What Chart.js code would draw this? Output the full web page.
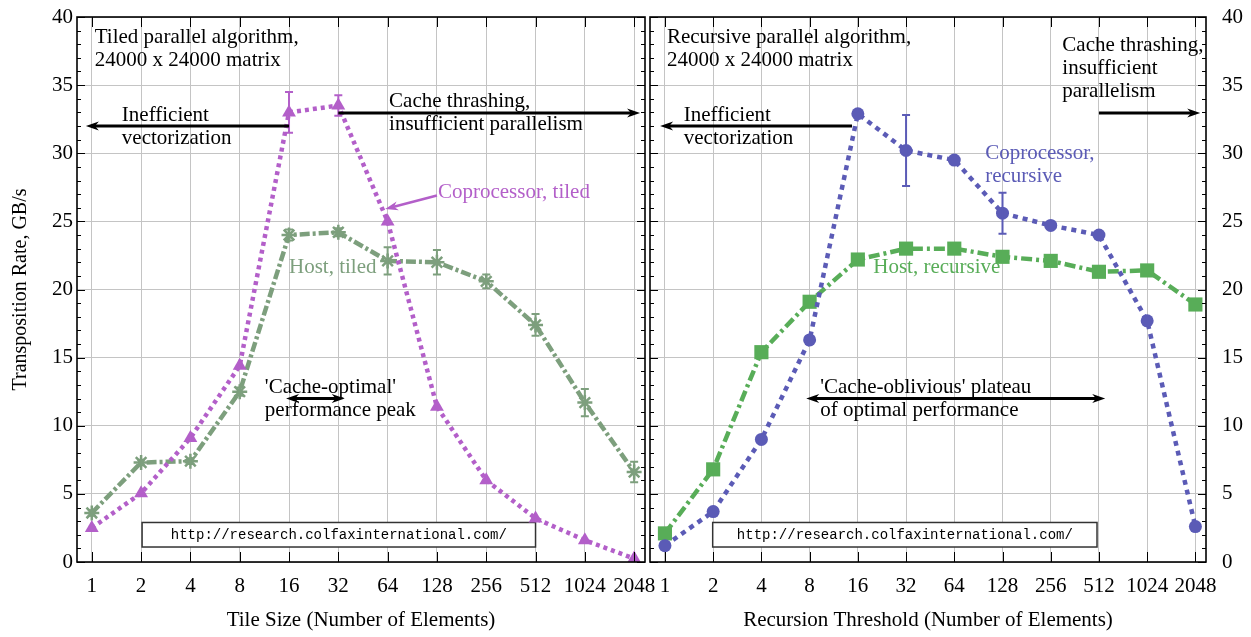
<!DOCTYPE html>
<html>
<head>
<meta charset="utf-8">
<script src="https://cdn.jsdelivr.net/npm/chart.js@4.4.1/dist/chart.umd.min.js"></script>
<style>
	body { margin: 0; background: #fff; }
	#wrap { position: relative; width: 1251px; height: 637px; overflow: hidden; }
	#wrap canvas { position: absolute; top: 0; }
</style>
</head>
<body>
<div id="wrap">
	<canvas id="left-chart" width="680" height="637" style="left:0"></canvas>
	<canvas id="right-chart" width="621" height="637" style="left:630px"></canvas>
</div>
<script>
// x categories (powers of two) and the four measured series, GB/s
const sizes = ['1', '2', '4', '8', '16', '32', '64', '128', '256', '512', '1024', '2048'];

const coprocTiled    = [2.5, 5.05, 9.1, 14.4, 33.0, 33.5, 25.0, 11.4, 6.0, 3.2, 1.6, 0.25];
const coprocTiledErr = [0, 0, 0, 0, 1.5, 0.75, 0, 0, 0, 0, 0, 0];
const hostTiled      = [3.6, 7.3, 7.4, 12.5, 24.0, 24.2, 22.1, 22.0, 20.6, 17.4, 11.7, 6.6];
const hostTiledErr   = [0.2, 0.2, 0.2, 0.3, 0.4, 0.3, 1.0, 0.9, 0.5, 0.8, 1.0, 0.75];

const coprocRec    = [1.2, 3.7, 9.0, 16.3, 32.9, 30.2, 29.5, 25.6, 24.7, 24.0, 17.7, 2.6];
const coprocRecErr = [0, 0, 0, 0, 0, 2.6, 0, 1.5, 0, 0, 0, 0];
const hostRec      = [2.1, 6.8, 15.4, 19.1, 22.2, 23.0, 23.0, 22.4, 22.1, 21.3, 21.4, 18.9];

const yTicks = [0, 5, 10, 15, 20, 25, 30, 35, 40];

const PURPLE = '#b35fc9';
const GREYGREEN = '#7d9f7d';
const BLUE = '#5b5bb6';
const GREEN = '#58ad58';
const SERIF = '"Liberation Serif", "Times New Roman", serif';
const URL_TEXT = 'http://research.colfaxinternational.com/';

const pts = (arr) => arr.map((v, i) => ({ x: i, y: v }));

function arrow(ctx, x1, y1, x2, y2, both, color, width) {
	ctx.strokeStyle = color;
	ctx.fillStyle = color;
	ctx.lineWidth = width;
	const ang = Math.atan2(y2 - y1, x2 - x1);
	const L = 13, W = 4.5;
	const head = (x, y, a) => {
		ctx.beginPath();
		ctx.moveTo(x, y);
		ctx.lineTo(x - L * Math.cos(a) + W * Math.sin(a), y - L * Math.sin(a) - W * Math.cos(a));
		ctx.lineTo(x - L * Math.cos(a) * 0.7, y - L * Math.sin(a) * 0.7);
		ctx.lineTo(x - L * Math.cos(a) - W * Math.sin(a), y - L * Math.sin(a) + W * Math.cos(a));
		ctx.closePath();
		ctx.fill();
	};
	ctx.beginPath();
	ctx.moveTo(both ? x1 + 8 * Math.cos(ang) : x1, both ? y1 + 8 * Math.sin(ang) : y1);
	ctx.lineTo(x2 - 8 * Math.cos(ang), y2 - 8 * Math.sin(ang));
	ctx.stroke();
	head(x2, y2, ang);
	if (both) head(x1, y1, ang + Math.PI);
}

// frame, mirrored ticks, url box, error bars and the text notes
const panelPlugin = {
	id: 'panel',
	beforeDatasetsDraw(chart, args, opts) {
		const { ctx, scales: { x, y } } = chart;
		ctx.save();
		const bx1 = x.getPixelForValue(opts.box[0]), bx2 = x.getPixelForValue(opts.box[1]);
		const by1 = y.getPixelForValue(opts.box[2]), by2 = y.getPixelForValue(opts.box[3]);
		ctx.fillStyle = '#fff';
		ctx.fillRect(bx1, by1, bx2 - bx1, by2 - by1);
		ctx.strokeStyle = '#333';
		ctx.lineWidth = 1.5;
		ctx.strokeRect(bx1, by1, bx2 - bx1, by2 - by1);
		ctx.fillStyle = '#000';
		ctx.font = '14px "Liberation Mono", "DejaVu Sans Mono", monospace';
		ctx.textAlign = 'center';
		ctx.textBaseline = 'middle';
		ctx.fillText(URL_TEXT, (bx1 + bx2) / 2, (by1 + by2) / 2 + 1);
		ctx.restore();
	},
	afterDraw(chart, args, opts) {
		const { ctx, chartArea: a, scales: { x, y } } = chart;
		ctx.save();

		// error bars
		opts.errors.forEach((e) => {
			ctx.strokeStyle = e.color;
			ctx.lineWidth = 2;
			e.vals.forEach((v, i) => {
				const d = e.err[i];
				if (!d) return;
				const px = x.getPixelForValue(i);
				const t = y.getPixelForValue(v + d), b = y.getPixelForValue(v - d);
				ctx.beginPath();
				ctx.moveTo(px, t); ctx.lineTo(px, b);
				ctx.moveTo(px - 4, t); ctx.lineTo(px + 4, t);
				ctx.moveTo(px - 4, b); ctx.lineTo(px + 4, b);
				ctx.stroke();
			});
		});

		// minor / major ticks on all sides
		ctx.strokeStyle = '#000';
		ctx.lineWidth = 1;
		ctx.beginPath();
		for (let v = 0; v <= 40; v++) {
			const py = Math.round(y.getPixelForValue(v)) + 0.5;
			const len = v % 5 ? 4 : 8;
			ctx.moveTo(a.left, py); ctx.lineTo(a.left + len, py);
			ctx.moveTo(a.right, py); ctx.lineTo(a.right - len, py);
		}
		sizes.forEach((s, i) => {
			const px = Math.round(x.getPixelForValue(i)) + 0.5;
			ctx.moveTo(px, a.bottom); ctx.lineTo(px, a.bottom - 10);
			ctx.moveTo(px, a.top); ctx.lineTo(px, a.top + 10);
		});
		ctx.stroke();

		ctx.lineWidth = 1.6;
		ctx.strokeRect(a.left, a.top, a.right - a.left, a.bottom - a.top);

		// notes
		ctx.font = '21px ' + SERIF;
		ctx.textAlign = 'left';
		ctx.textBaseline = 'middle';
		opts.notes.forEach((n) => {
			ctx.fillStyle = n.color || '#000';
			const px = x.getPixelForValue(n.at[0]);
			const py = y.getPixelForValue(n.at[1]);
			n.lines.forEach((l, k) => ctx.fillText(l, px, py + k * 23));
		});

		opts.arrows.forEach((r) => {
			arrow(ctx,
				x.getPixelForValue(r.from[0]), y.getPixelForValue(r.from[1]),
				x.getPixelForValue(r.to[0]), y.getPixelForValue(r.to[1]),
				r.both, r.color || '#000', r.width || 3);
		});
		ctx.restore();
	}
};

function makePanel(id, side, xTitle, series, panelOpts) {
	const yAxis = {
		position: side,
		min: 0,
		max: 40,
		afterBuildTicks: (scale) => { scale.ticks = yTicks.map((v) => ({ value: v })); },
		afterFit: (scale) => {
			scale.width = side === 'left' ? 77 : 45;
			scale.paddingTop = 0;
			scale.paddingBottom = 0;
		},
		grid: { color: '#c4c4c4', lineWidth: 1, drawTicks: false },
		border: { display: false },
		ticks: {
			color: '#000',
			padding: side === 'left' ? 4 : 16,
			font: { family: SERIF, size: 21 }
		},
		title: side === 'left' ? {
			display: true,
			text: 'Transposition Rate, GB/s',
			color: '#000',
			font: { family: SERIF, size: 20 },
			padding: { top: 9 }
		} : { display: false }
	};

	new Chart(document.getElementById(id), {
		type: 'line',
		data: { datasets: series },
		plugins: [panelPlugin],
		options: {
			responsive: false,
			animation: false,
			devicePixelRatio: 1,
			layout: { padding: { top: 17, left: side === 'left' ? 0 : 20, right: side === 'left' ? 35 : 0, bottom: 0 } },
			plugins: {
				legend: { display: false },
				tooltip: { enabled: false },
				panel: panelOpts
			},
			scales: {
				x: {
					type: 'linear',
					min: side === 'left' ? -0.3 : -0.31,
					max: 11.22,
					afterBuildTicks: (scale) => { scale.ticks = sizes.map((s, i) => ({ value: i })); },
					afterFit: (scale) => {
						scale.height = 75;
						scale.paddingLeft = 0;
						scale.paddingRight = 0;
					},
					grid: { color: '#c4c4c4', lineWidth: 1, drawTicks: false },
					border: { display: false },
					ticks: {
						color: '#000',
						padding: 12,
						maxRotation: 0,
						autoSkip: false,
						font: { family: SERIF, size: 21 },
						callback: (v) => sizes[v]
					},
					title: {
						display: true,
						text: xTitle,
						color: '#000',
						font: { family: SERIF, size: 21 },
						padding: { top: 3 }
					}
				},
				y: yAxis
			}
		}
	});
}

makePanel('left-chart', 'left', 'Tile Size (Number of Elements)', [
	{
		data: pts(coprocTiled), borderColor: PURPLE, backgroundColor: PURPLE,
		borderWidth: 4.5, borderDash: [4, 4], pointStyle: 'triangle', pointRadius: 8, pointBorderWidth: 0
	},
	{
		data: pts(hostTiled), borderColor: GREYGREEN, backgroundColor: GREYGREEN,
		borderWidth: 4.5, borderDash: [10, 3, 3, 3], pointStyle: 'star', pointRadius: 7.5, pointBorderWidth: 2.5
	}
], {
	box: [1.02, 9.0, 2.9, 1.1],
	errors: [
		{ vals: coprocTiled, err: coprocTiledErr, color: PURPLE },
		{ vals: hostTiled, err: hostTiledErr, color: GREYGREEN }
	],
	notes: [
		{ at: [0.06, 38.5], lines: ['Tiled parallel algorithm,', '24000 x 24000 matrix'] },
		{ at: [0.61, 32.8], lines: ['Inefficient', 'vectorization'] },
		{ at: [6.03, 33.8], lines: ['Cache thrashing,', 'insufficient parallelism'] },
		{ at: [7.02, 27.1], lines: ['Coprocessor, tiled'], color: PURPLE },
		{ at: [4.0, 21.6], lines: ['Host, tiled'], color: GREYGREEN },
		{ at: [3.51, 12.8], lines: ["'Cache-optimal'", 'performance peak'] }
	],
	arrows: [
		{ from: [4.0, 32.0], to: [-0.12, 32.0] },
		{ from: [5.0, 32.95], to: [11.12, 32.95] },
		{ from: [7.0, 26.9], to: [5.95, 25.9], color: PURPLE, width: 2.5 },
		{ from: [3.94, 12.0], to: [5.13, 12.0], both: true }
	]
});

makePanel('right-chart', 'right', 'Recursion Threshold (Number of Elements)', [
	{
		data: pts(coprocRec), borderColor: BLUE, backgroundColor: BLUE,
		borderWidth: 4.5, borderDash: [5, 5], pointStyle: 'circle', pointRadius: 6.5, pointBorderWidth: 0
	},
	{
		data: pts(hostRec), borderColor: GREEN, backgroundColor: GREEN,
		borderWidth: 4.5, borderDash: [11, 4, 3, 4], pointStyle: 'rect', pointRadius: 10, pointBorderWidth: 0
	}
], {
	box: [0.99, 8.96, 2.9, 1.1],
	errors: [
		{ vals: coprocRec, err: coprocRecErr, color: BLUE }
	],
	notes: [
		{ at: [0.04, 38.5], lines: ['Recursive parallel algorithm,', '24000 x 24000 matrix'] },
		{ at: [8.24, 37.9], lines: ['Cache thrashing,', 'insufficient', 'parallelism'] },
		{ at: [0.39, 32.8], lines: ['Inefficient', 'vectorization'] },
		{ at: [6.64, 30.0], lines: ['Coprocessor,', 'recursive'], color: BLUE },
		{ at: [4.32, 21.6], lines: ['Host, recursive'], color: GREEN },
		{ at: [3.22, 12.8], lines: ["'Cache-oblivious' plateau", 'of optimal performance'] }
	],
	arrows: [
		{ from: [9.0, 32.95], to: [11.1, 32.95] },
		{ from: [3.88, 32.0], to: [-0.1, 32.0] },
		{ from: [2.93, 12.0], to: [9.13, 12.0], both: true }
	]
});
</script>
</body>
</html>
